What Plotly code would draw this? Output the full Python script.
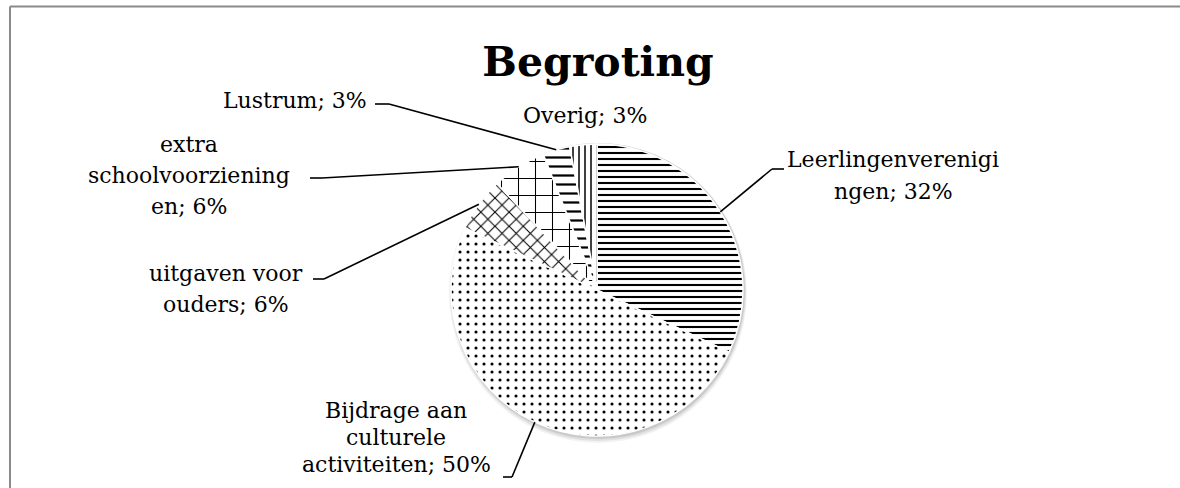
import math
import plotly.graph_objects as go

# ---- data ----
categories = ["Leerlingenverenigingen", "Bijdrage aan culturele activiteiten",
              "uitgaven voor ouders", "extra schoolvoorzieningen", "Lustrum", "Overig"]
values = [32, 50, 6, 6, 3, 3]
label_lines = [
    ["Leerlingenverenigi", "ngen; 32%"],
    ["Bijdrage aan", "culturele", "activiteiten; 50%"],
    ["uitgaven voor", "ouders; 6%"],
    ["extra", "schoolvoorziening", "en; 6%"],
    ["Lustrum; 3%"],
    ["Overig; 3%"],
]
patterns = ["-", ".", "x", "+", "-", "|"]
pattern_sizes = [6, 8, 10, 17, 9, 6]
pattern_solidity = [0.35, 0.12, 0.2, 0.12, 0.25, 0.25]

W, H = 1180, 488
CX, CY, R = 597, 290, 146
FONT = "DejaVu Serif"


def px(x):
    return x / W


def py(y):
    return 1 - y / H


fig = go.Figure()
fig.add_trace(go.Pie(
    labels=categories, values=values, sort=False, direction="clockwise", rotation=0,
    textinfo="none", hoverinfo="label+percent",
    marker=dict(colors=["white"] * len(values),
                line=dict(color="white", width=1.5),
                pattern=dict(shape=patterns, size=pattern_sizes, solidity=pattern_solidity,
                             fgcolor="black", bgcolor="white", fillmode="replace")),
    domain=dict(x=[px(CX - R), px(CX + R)], y=[py(CY + R), py(CY - R)]),
    showlegend=False,
))

shapes = []
# chart border (top and left visible)
shapes.append(dict(type="line", xref="paper", yref="paper",
                   x0=px(10), y0=py(6.5), x1=1.0, y1=py(6.5),
                   line=dict(color="#8a8a8a", width=2), layer="below"))
shapes.append(dict(type="line", xref="paper", yref="paper",
                   x0=px(10), y0=py(6.5), x1=px(10), y1=0.0,
                   line=dict(color="#8a8a8a", width=2), layer="below"))
# soft shadow under the pie
for off, extra, op in [(4, 3, 0.05), (3, 2, 0.07), (2, 1, 0.10)]:
    shapes.append(dict(type="circle", xref="paper", yref="paper",
                       x0=px(CX - R - extra + 1), x1=px(CX + R + extra + 1),
                       y0=py(CY + R + extra + off), y1=py(CY - R - extra + off - 2),
                       fillcolor=f"rgba(0,0,0,{op})", line=dict(width=0), layer="below"))

# leader lines: (label end, elbow) per slice; None for no leader
leaders = [
    ((784, 169), (772, 169)),
    ((503, 477), (512, 477)),
    ((313, 279), (324, 279)),
    ((310, 178), (322, 178)),
    ((375, 104), (389, 104)),
    None,
]
total = sum(values)
cum = 0
for v, ld in zip(values, leaders):
    mid = (cum + v / 2) / total * 2 * math.pi
    cum += v
    if ld is None:
        continue
    ex, ey = CX + R * math.sin(mid), CY - R * math.cos(mid)
    (ax, ay), (bx, by) = ld
    shapes.append(dict(type="line", xref="paper", yref="paper",
                       x0=px(ax), y0=py(ay), x1=px(bx), y1=py(by),
                       line=dict(color="black", width=1.6)))
    shapes.append(dict(type="line", xref="paper", yref="paper",
                       x0=px(bx), y0=py(by), x1=px(ex), y1=py(ey),
                       line=dict(color="black", width=1.6)))

# label positions (center x, first line y, line spacing)
label_pos = [
    (893, 160, 31),
    (396, 410, 27),
    (226, 273, 31),
    (189, 144, 31),
    (295, 100, 30),
    (585, 116, 30),
]
annotations = []
for lines, (lx, ly, dy) in zip(label_lines, label_pos):
    for k, t in enumerate(lines):
        annotations.append(dict(text=t, x=px(lx), y=py(ly + k * dy), xref="paper", yref="paper",
                                xanchor="center", yanchor="middle", showarrow=False,
                                font=dict(family=FONT, size=22, color="black")))

fig.update_layout(
    width=W, height=H,
    margin=dict(l=0, r=0, t=0, b=0),
    paper_bgcolor="white", plot_bgcolor="white",
    title=dict(text="<b>Begroting</b>", x=px(598), y=py(62), xanchor="center", yanchor="middle",
               xref="paper", yref="container",
               font=dict(family=FONT, size=41, color="black")),
    shapes=shapes, annotations=annotations,
)
fig.write_html("out.html", config={"displayModeBar": False},
               post_script="document.body.style.margin='0';document.body.style.overflow='hidden';")
